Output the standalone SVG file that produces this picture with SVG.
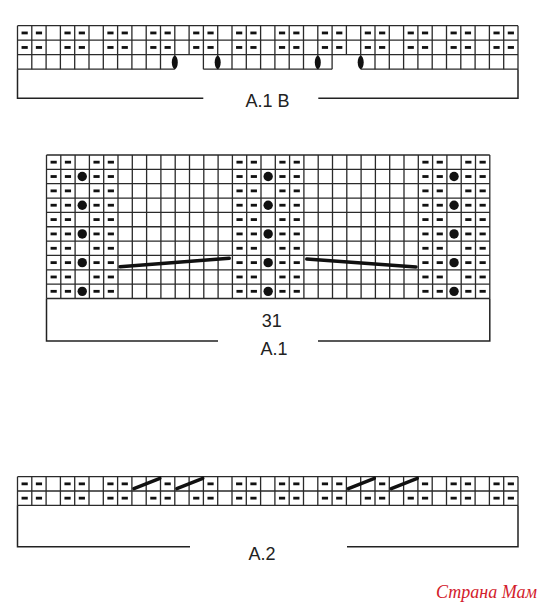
<svg xmlns="http://www.w3.org/2000/svg" xmlns:xlink="http://www.w3.org/1999/xlink" width="544" height="610" viewBox="0 0 544 610">
<style>
.grid{fill:none;stroke:#2a2a2a;stroke-width:1.3}
.br{fill:none;stroke:#222;stroke-width:1.5}
.lbl{font-family:"Liberation Sans",Arial,sans-serif;font-size:18px;fill:#222;text-anchor:middle}
.thick{stroke:#111;stroke-width:3.4;stroke-linecap:round;fill:none}
.wm{font-family:"Liberation Serif","Times New Roman",serif;font-style:italic;font-size:18px;fill:#d3202b;stroke:#fff;stroke-width:3;paint-order:stroke;stroke-linejoin:round}
</style>
<defs>
<rect id="d" width="6.2" height="2.8" fill="#111"/>
<g id="dr35">
<use href="#d" x="4.05"/><use href="#d" x="18.35"/><use href="#d" x="46.95"/><use href="#d" x="61.25"/>
<use href="#d" x="89.85"/><use href="#d" x="104.15"/><use href="#d" x="132.75"/><use href="#d" x="147.05"/>
<use href="#d" x="175.65"/><use href="#d" x="189.95"/><use href="#d" x="218.55"/><use href="#d" x="232.85"/>
<use href="#d" x="261.45"/><use href="#d" x="275.75"/><use href="#d" x="304.35"/><use href="#d" x="318.65"/>
<use href="#d" x="347.25"/><use href="#d" x="361.55"/><use href="#d" x="390.15"/><use href="#d" x="404.45"/>
<use href="#d" x="433.05"/><use href="#d" x="447.35"/><use href="#d" x="475.95"/><use href="#d" x="490.25"/>
</g>
<g id="dr31">
<use href="#d" x="4.05"/><use href="#d" x="18.35"/><use href="#d" x="46.95"/><use href="#d" x="61.25"/>
<use href="#d" x="189.95"/><use href="#d" x="204.25"/><use href="#d" x="232.85"/><use href="#d" x="247.15"/>
<use href="#d" x="375.85"/><use href="#d" x="390.15"/><use href="#d" x="418.75"/><use href="#d" x="433.05"/>
</g>
<g id="dots">
<circle cx="35.75" cy="0" r="4.7" fill="#111"/>
<circle cx="221.65" cy="0" r="4.7" fill="#111"/>
<circle cx="407.55" cy="0" r="4.7" fill="#111"/>
</g>
<line id="sl" x1="2" y1="12" x2="28" y2="1.6" class="thick"/>
</defs>

<g id="chart-A1B" transform="translate(17.5,25.7)">
<path class="grid" d="M0,0H500.5M0,14.5H500.5M0,29H500.5M0,43.5H157.3M185.9,43.5H314.6M343.2,43.5H500.5"/>
<path class="grid" d="M0,0V43.5M14.3,0V43.5M28.6,0V43.5M42.9,0V43.5M57.2,0V43.5M71.5,0V43.5M85.8,0V43.5M100.1,0V43.5M114.4,0V43.5M128.7,0V43.5M143,0V43.5M157.3,0V43.5M171.6,0V29M185.9,0V43.5M200.2,0V43.5M214.5,0V43.5M228.8,0V43.5M243.1,0V43.5M257.4,0V43.5M271.7,0V43.5M286,0V43.5M300.3,0V43.5M314.6,0V43.5M328.9,0V29M343.2,0V43.5M357.5,0V43.5M371.8,0V43.5M386.1,0V43.5M400.4,0V43.5M414.7,0V43.5M429,0V43.5M443.3,0V43.5M457.6,0V43.5M471.9,0V43.5M486.2,0V43.5M500.5,0V43.5"/>
<use href="#dr35" y="5.85"/>
<use href="#dr35" y="20.35"/>
<ellipse cx="157.3" cy="36.6" rx="3" ry="6.6" fill="#111"/>
<ellipse cx="200.2" cy="36.6" rx="3" ry="6.6" fill="#111"/>
<ellipse cx="300.3" cy="36.6" rx="3" ry="6.6" fill="#111"/>
<ellipse cx="343.2" cy="36.6" rx="3" ry="6.6" fill="#111"/>
</g>
<g id="label-A1B">
<path class="br" d="M17.5,69.2V98.3H203.3M318.3,98.3H518V69.2"/>
<text class="lbl" x="267.5" y="106.7">A.1 B</text>
</g>

<g id="chart-A1" transform="translate(46.5,155)">
<path class="grid" d="M0,0H443.3M0,14.35H443.3M0,28.7H443.3M0,43.05H443.3M0,57.4H443.3M0,71.75H443.3M0,86.1H443.3M0,100.45H443.3M0,114.8H443.3M0,129.15H443.3M0,143.5H443.3"/>
<path class="grid" d="M0,0V143.5M14.3,0V143.5M28.6,0V143.5M42.9,0V143.5M57.2,0V143.5M71.5,0V143.5M85.8,0V143.5M100.1,0V143.5M114.4,0V143.5M128.7,0V143.5M143,0V143.5M157.3,0V143.5M171.6,0V143.5M185.9,0V143.5M200.2,0V143.5M214.5,0V143.5M228.8,0V143.5M243.1,0V143.5M257.4,0V143.5M271.7,0V143.5M286,0V143.5M300.3,0V143.5M314.6,0V143.5M328.9,0V143.5M343.2,0V143.5M357.5,0V143.5M371.8,0V143.5M386.1,0V143.5M400.4,0V143.5M414.7,0V143.5M429,0V143.5M443.3,0V143.5"/>
<use href="#dr31" y="5.775"/><use href="#dr31" y="20.125"/><use href="#dr31" y="34.475"/><use href="#dr31" y="48.825"/><use href="#dr31" y="63.175"/>
<use href="#dr31" y="77.525"/><use href="#dr31" y="91.875"/><use href="#dr31" y="106.225"/><use href="#dr31" y="120.575"/><use href="#dr31" y="134.925"/>
<use href="#dots" y="21.525"/><use href="#dots" y="50.225"/><use href="#dots" y="78.925"/><use href="#dots" y="107.625"/><use href="#dots" y="136.325"/>
<line class="thick" x1="73.5" y1="111.7" x2="182.8" y2="103.3"/>
<line class="thick" x1="260.2" y1="104" x2="369.5" y2="112"/>
</g>
<g id="label-A1">
<path class="br" d="M46.5,298.5V341H218M318,341H489.8V298.5"/>
<text class="lbl" x="271.7" y="326.7">31</text>
<text class="lbl" x="274" y="355">A.1</text>
</g>

<g id="chart-A2" transform="translate(17.5,476.7)">
<path class="grid" d="M0,0H500.5M0,14.3H500.5M0,28.6H500.5"/>
<path class="grid" d="M0,0V28.6M14.3,0V28.6M28.6,0V28.6M42.9,0V28.6M57.2,0V28.6M71.5,0V28.6M85.8,0V28.6M100.1,0V28.6M114.4,0V28.6M128.7,0V28.6M143,0V28.6M157.3,0V28.6M171.6,0V28.6M185.9,0V28.6M200.2,0V28.6M214.5,0V28.6M228.8,0V28.6M243.1,0V28.6M257.4,0V28.6M271.7,0V28.6M286,0V28.6M300.3,0V28.6M314.6,0V28.6M328.9,0V28.6M343.2,0V28.6M357.5,0V28.6M371.8,0V28.6M386.1,0V28.6M400.4,0V28.6M414.7,0V28.6M429,0V28.6M443.3,0V28.6M457.6,0V28.6M471.9,0V28.6M486.2,0V28.6M500.5,0V28.6"/>
<g transform="translate(0,5.75)">
<use href="#d" x="4.05"/><use href="#d" x="18.35"/><use href="#d" x="46.95"/><use href="#d" x="61.25"/>
<use href="#d" x="89.85"/><use href="#d" x="104.15"/><use href="#d" x="147.05"/><use href="#d" x="189.95"/>
<use href="#d" x="218.55"/><use href="#d" x="232.85"/><use href="#d" x="261.45"/><use href="#d" x="275.75"/>
<use href="#d" x="304.35"/><use href="#d" x="318.65"/><use href="#d" x="361.55"/><use href="#d" x="404.45"/>
<use href="#d" x="433.05"/><use href="#d" x="447.35"/><use href="#d" x="475.95"/><use href="#d" x="490.25"/>
</g>
<use href="#dr35" y="20.05"/>
<use href="#sl" x="114.4"/>
<use href="#sl" x="157.3"/>
<use href="#sl" x="328.9"/>
<use href="#sl" x="371.8"/>
</g>
<g id="label-A2">
<path class="br" d="M17.5,505.3V546.7H190M347,546.7H518V505.3"/>
<text class="lbl" x="262" y="560">A.2</text>
</g>

<text class="wm" x="436" y="598">Страна Мам</text>
</svg>
